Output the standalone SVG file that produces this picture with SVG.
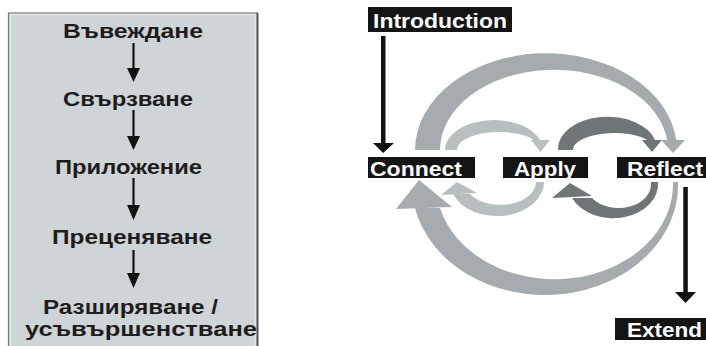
<svg xmlns="http://www.w3.org/2000/svg" width="706" height="346" viewBox="0 0 706 346">
<style>
.lt{font-family:"Liberation Sans",Arial,sans-serif;font-weight:bold;font-size:21px;fill:#1f1c1d}
.bt{font-family:"Liberation Sans",Arial,sans-serif;font-weight:bold;font-size:21px;fill:#ffffff}
.box{fill:#141414}
.big{fill:#a5abae}
.light{fill:#b9bec0}
.dark{fill:#707578}
</style>
<rect width="706" height="346" fill="#ffffff"/>
<g id="panel">
<rect x="8.5" y="13" width="249" height="340" fill="#cfd4d6" stroke="#767676" stroke-width="1.2"/>
<rect x="10.5" y="14.5" width="244.5" height="340" fill="none" stroke="#e2e5e6" stroke-width="1.5"/>
<line x1="257.5" y1="13" x2="257.5" y2="346" stroke="#4f4f4f" stroke-width="1.8"/>
</g>
<g id="n-vavezhdane"><text class="lt" x="63" y="37.5" textLength="140" lengthAdjust="spacingAndGlyphs">Въвеждане</text></g>
<g id="n-svarzvane"><text class="lt" x="63" y="105.5" textLength="130" lengthAdjust="spacingAndGlyphs">Свързване</text></g>
<g id="n-prilozhenie"><text class="lt" x="55" y="173.5" textLength="147" lengthAdjust="spacingAndGlyphs">Приложение</text></g>
<g id="n-precenyavane"><text class="lt" x="52" y="243.5" textLength="160" lengthAdjust="spacingAndGlyphs">Преценяване</text></g>
<g id="n-razshiryavane">
<text class="lt" x="43" y="313.5" textLength="175" lengthAdjust="spacingAndGlyphs">Разширяване /</text>
<text class="lt" x="25" y="335.5" textLength="232" lengthAdjust="spacingAndGlyphs">усъвършенстване</text>
</g>
<g id="n-introduction"><rect class="box" x="368" y="7" width="144" height="25"/><text class="bt" x="373" y="28" textLength="134" lengthAdjust="spacingAndGlyphs">Introduction</text></g>
<g id="n-connect"><rect class="box" x="368" y="157" width="107" height="21"/><text class="bt" x="370" y="175.5" textLength="92" lengthAdjust="spacingAndGlyphs">Connect</text></g>
<g id="n-apply"><rect class="box" x="503" y="157" width="85" height="21"/><text class="bt" x="514" y="175.5" textLength="62" lengthAdjust="spacingAndGlyphs">Apply</text></g>
<g id="n-reflect"><rect class="box" x="617" y="157" width="89" height="21"/><text class="bt" x="627" y="175.5" textLength="76" lengthAdjust="spacingAndGlyphs">Reflect</text></g>
<g id="n-extend"><rect class="box" x="615" y="318" width="91" height="22"/><text class="bt" x="627" y="337" textLength="75" lengthAdjust="spacingAndGlyphs">Extend</text></g>
<g id="connectors">
<g stroke="#111" stroke-width="2.2" fill="#111">
<line x1="133.5" y1="43" x2="133.5" y2="70"/><polygon points="127,68 140,68 133.5,82" stroke="none"/>
<line x1="133.5" y1="110" x2="133.5" y2="138"/><polygon points="127,136 140,136 133.5,150" stroke="none"/>
<line x1="133.5" y1="178" x2="133.5" y2="207"/><polygon points="127,205 140,205 133.5,220" stroke="none"/>
<line x1="133.5" y1="250" x2="133.5" y2="275"/><polygon points="127,273 140,273 133.5,288" stroke="none"/>
</g>
<g fill="#111">
<rect x="381" y="36" width="4.5" height="108"/><polygon points="373,143 394,143 383.2,153"/>
<rect x="683.3" y="187" width="4.5" height="107"/><polygon points="675,292 696,292 685.5,303"/>
</g>
<path class="big" d="M415 150 A131 97 0 0 1 676.4 141 L667.3 141 A114 80 0 0 0 440 150 Z"/>
<polygon class="big" points="661,140 685,140 673,153"/>
<path class="light" d="M445 150 A49 30 0 0 1 540.7 141 L535.4 141 A42 18 0 0 0 457 150 Z"/>
<polygon class="light" points="531,140 550,140 540.5,152"/>
<path class="dark" d="M558 150 A49.5 32 0 0 1 655.5 141 L649 141 A41.1 17 0 0 0 573 150 Z"/>
<polygon class="dark" points="642,140 662,140 652,152"/>
<path class="light" d="M544 182 A47 34 0 0 1 453 194 L470 194 A35.7 23 0 0 0 536 182 Z"/>
<polygon class="light" points="441,195 477,193 457,182"/>
<path class="dark" d="M658 182 A45 34 0 0 1 572 198 L592 198 A32.6 24 0 0 0 651 182 Z"/>
<polygon class="dark" points="552,198 592,196 570,183"/>
<path class="big" d="M678 182 A133 110 0 0 1 415 208 L440 208 A118.4 95 0 0 0 673 182 Z"/>
<polygon class="big" points="396,209 452,207 419,180"/>
</g>
</svg>
